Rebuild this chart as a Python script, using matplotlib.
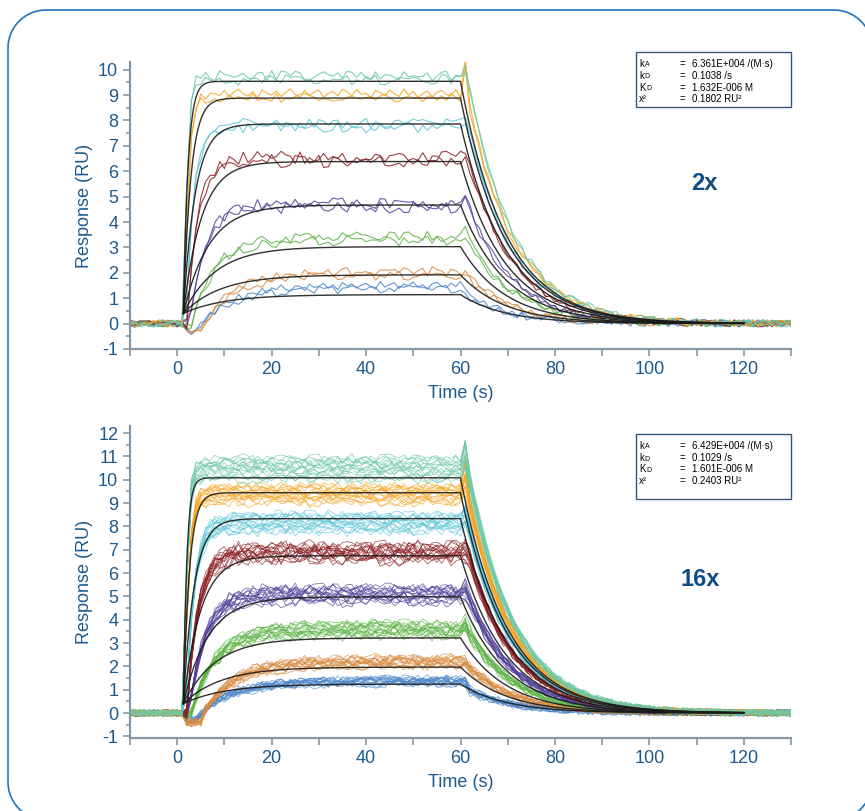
import numpy as np
import matplotlib.pyplot as plt
from matplotlib.lines import Line2D
from matplotlib.patches import Rectangle
from matplotlib.ticker import MultipleLocator
from matplotlib.transforms import IdentityTransform

plt.rcParams['font.family'] = ['Liberation Sans', 'DejaVu Sans']
plt.rcParams['axes.unicode_minus'] = False

W, H = 865, 811
TXT = '#1d5a8e'
SPINE = '#8797a3'

# one sample per second
t = np.arange(-10, 131, 1.0)

# concentration series, highest first
colors = ['#6cc8a4', '#f5a41f', '#5ec6d8', '#8c1d22', '#4f3f98', '#5cb446', '#d98b40', '#4c86c8']

# kinetic constants from the global 1:1 fits
ka_2x, kd_2x, KD_2x, chi2_2x = 6.361e4, 0.1038, 1.632e-6, 0.1802
ka_16x, kd_16x, KD_16x, chi2_16x = 6.429e4, 0.1029, 1.601e-6, 0.2403

# fitted steady-state levels (RU) and Rmax
fit_plateau_2x = [9.54, 8.88, 7.86, 6.38, 4.67, 3.03, 1.92, 1.14]
fit_plateau_16x = [10.08, 9.44, 8.33, 6.74, 4.98, 3.22, 1.97, 1.24]
rmax_2x = 10.65
rmax_16x = 10.9

# measured response levels
data_level_2x = [9.68, 8.98, 7.80, 6.48, 4.65, 3.35, 1.98, 1.43]
data_level_16x = [10.45, 9.35, 8.12, 6.85, 5.05, 3.55, 2.18, 1.35]
data_rate = [1.6, 1.1, 0.6, 0.42, 0.3, 0.2, 0.15, 0.14]
data_on = [1.5, 1.5, 1.8, 2.0, 2.5, 3.0, 5.5, 5.0]
dip = [0, 0, 0, 0, 0, -0.1, -0.4, -0.3]
bulk = [0, 0, 0, 0, 0, 0, 0.15, 0.35]
spike_2x = [0.4, 1.3, 0.2, 0, 0.3, 0.3, 0, 0]
spike_16x = [0.6, 0.9, 0.3, 0.1, 0.2, 0.2, 0, 0]
noise_amp = [0.22, 0.2, 0.22, 0.28, 0.24, 0.22, 0.2, 0.17]
base_amp = 0.15

# replicate level offsets (fraction of spread)
rep_2x = [0.08, -0.08]
rep_16x = [-0.9, 0.6, -0.3, 0.95, 0.1, -0.6, 0.4, -0.1, 0.8, -0.75, 0.25, -0.45, 0.7, 0.0, -0.2, 0.5]
spread_16x = [0.5, 0.4, 0.4, 0.35, 0.35, 0.3, 0.22, 0.15]

# sensor noise pattern
jitter = [0.3, -0.5, 0.8, -0.2, 0.1, -0.9, 0.6, 0.2, -0.4, 0.7,
          -0.1, -0.6, 0.9, -0.3, 0.4, -0.8, 0.0, 0.5, -0.7, 0.2,
          0.6, -0.2, -0.5, 0.8, -0.9, 0.3, 0.1, -0.4, 0.7, -0.6,
          0.5, -0.1, 0.9, -0.3, -0.7, 0.4, 0.2, -0.8, 0.6, -0.2,
          0.0, 0.7, -0.5, 0.3, -0.9, 0.8, -0.1, 0.4, -0.6, 0.1,
          0.5, -0.3, -0.8, 0.9, -0.4, 0.2, 0.6, -0.7, 0.3, -0.1,
          0.8, -0.5, 0.1, -0.9, 0.4, 0.7, -0.2, -0.6, 0.5, -0.3,
          0.9, -0.8, 0.2, 0.0, -0.4, 0.6, -0.7, 0.3, 0.8, -0.1,
          -0.5, 0.4, -0.9, 0.7, 0.1, -0.3, 0.5, -0.6, 0.2, 0.9,
          -0.2, -0.8, 0.6, -0.4, 0.3, 0.7, -0.7, 0.0, 0.4, -0.5, 0.8]
strides = [1, 3, 7, 11, 17, 23, 29, 37, 41, 47, 53, 59]

T0, R0 = 1.3, 0.4


def fit_curve(req, rmax, ka, kd):
    KD = kd / ka
    conc = KD * req / (rmax - req)
    kobs = ka * conc + kd
    ta = np.linspace(T0, 60, 300)
    td = np.linspace(60, 120, 300)
    ra = R0 + (req - R0) * (1 - np.exp(-kobs * (ta - T0)))
    rd = ra[-1] * np.exp(-kd * (td - 60))
    return np.r_[ta, td], np.r_[ra, rd]


def data_trace(i, level, kd, spike, k):
    jit = np.asarray(jitter)
    idx = (np.arange(t.size) * strides[k % len(strides)] + 13 * k) % jit.size
    y = np.zeros_like(t)
    on = (t >= data_on[i]) & (t < 62)
    y[on] = level * (1 - np.exp(-data_rate[i] * (t[on] - data_on[i])))
    y[(t >= 2) & (t < data_on[i])] = dip[i]
    off = t >= 62
    y[off] = (level - bulk[i]) * np.exp(-kd * (t[off] - 61.5))
    y[t == 61] += spike
    amp = np.where((t > 1) & (t < 63), noise_amp[i], base_amp)
    return y + jit[idx] * amp


fig = plt.figure(figsize=(W / 100, H / 100), dpi=100)


def frac(x0, y0, x1, y1):
    return [x0 / W, 1 - y1 / H, (x1 - x0) / W, (y1 - y0) / H]


def style(ax, ylim, ytop):
    ax.set_xlim(-10, 130)
    ax.set_ylim(*ylim)
    for s in ['top', 'right']:
        ax.spines[s].set_visible(False)
    for s in ['left', 'bottom']:
        ax.spines[s].set_color(SPINE)
        ax.spines[s].set_linewidth(1.6)
    ax.xaxis.set_major_locator(MultipleLocator(20))
    ax.xaxis.set_minor_locator(MultipleLocator(10))
    ax.yaxis.set_major_locator(MultipleLocator(1))
    ax.yaxis.set_minor_locator(MultipleLocator(0.5))
    ax.set_yticks(np.arange(-1, ytop + 1))
    ax.tick_params(which='both', direction='out', color=SPINE, width=1.2,
                   labelsize=13, labelcolor=TXT)
    ax.tick_params(axis='x', which='both', length=5)
    ax.tick_params(axis='y', which='major', length=5)
    ax.tick_params(axis='y', which='minor', length=3)
    ax.set_xlabel('Time (s)', fontsize=13, color=TXT, labelpad=5)
    ax.set_ylabel('Response (RU)', fontsize=13, color=TXT, labelpad=4)


def info_box(x0, y0, x1, y1, rows, ka, kd, KD, chi2):
    fig.add_artist(Rectangle((x0 / W, 1 - y1 / H), (x1 - x0) / W, (y1 - y0) / H,
                             transform=fig.transFigure, fill=False,
                             edgecolor='#34547c', linewidth=1.0))
    labels = [('k', 'A'), ('k', 'D'), ('K', 'D'), ('x²', '')]
    values = ['%.3fE+%03d /(M·s)' % (ka / 10 ** int(np.floor(np.log10(ka))),
                                     int(np.floor(np.log10(ka)))),
              '%.4f /s' % kd,
              '%.3fE-%03d M' % (KD / 10 ** int(np.floor(np.log10(KD))),
                                -int(np.floor(np.log10(KD)))),
              '%.4f RU²' % chi2]
    for (a, b), v, y in zip(labels, values, rows):
        fig.text(639 / W, 1 - y / H, a, fontsize=7, va='center', ha='left')
        fig.text((639 + (7 if a == 'K' else 5.5)) / W, 1 - (y + 1) / H, b,
                 fontsize=5, va='center', ha='left')
        fig.text(680 / W, 1 - y / H, '=', fontsize=7, va='center', ha='left')
        fig.text(692 / W, 1 - y / H, v, fontsize=7, va='center', ha='left')


panels = [
    dict(box=frac(130, 62, 791, 349.5), ylim=(-1.02, 10.3), ytop=10,
         plateau=fit_plateau_2x, rmax=rmax_2x, ka=ka_2x, kd=kd_2x, KD=KD_2x, chi2=chi2_2x,
         level=data_level_2x, reps=rep_2x, spread=[1] * 8, spike=spike_2x,
         lw=0.8, alpha=0.85, tag='2x', tag_xy=(704, 184),
         rect=(636, 52, 791, 107), rows=[64, 76, 87.7, 99.3]),
    dict(box=frac(130, 426, 791, 738), ylim=(-1.07, 12.3), ytop=12,
         plateau=fit_plateau_16x, rmax=rmax_16x, ka=ka_16x, kd=kd_16x, KD=KD_16x, chi2=chi2_16x,
         level=data_level_16x, reps=rep_16x, spread=spread_16x, spike=spike_16x,
         lw=0.6, alpha=0.7, tag='16x', tag_xy=(700, 580),
         rect=(636, 434, 791, 499), rows=[445.7, 458.3, 469.3, 480.7]),
]

k = 0
for p in panels:
    ax = fig.add_axes(p['box'])
    for i in reversed(range(8)):
        for r in p['reps']:
            lev = p['level'][i] + r * p['spread'][i]
            sp = p['spike'][i] * (1 + 0.5 * r)
            ax.plot(t, data_trace(i, lev, p['kd'], sp, k), color=colors[i],
                    lw=p['lw'], alpha=p['alpha'])
            k += 1
    for req in p['plateau']:
        tf, rf = fit_curve(req, p['rmax'], p['ka'], p['kd'])
        ax.plot(tf, rf, color='#1a1a1a', lw=1.0, alpha=0.9)
    style(ax, p['ylim'], p['ytop'])
    x0, y0, x1, y1 = p['rect']
    info_box(x0, y0, x1, y1, p['rows'], p['ka'], p['kd'], p['KD'], p['chi2'])
    fig.text(p['tag_xy'][0] / W, 1 - p['tag_xy'][1] / H, p['tag'], fontsize=17,
             fontweight='bold', color='#0e4d85', ha='center', va='center')

# rounded outer frame (pixel coordinates), running off the right and bottom edges
fx0, fx1, fy0, fy1, rad = 8, 872, -9, 801, 38
a = np.linspace(0, np.pi / 2, 30)
corners = [(fx1 - rad, fy1 - rad, a), (fx0 + rad, fy1 - rad, a + np.pi / 2),
           (fx0 + rad, fy0 + rad, a + np.pi), (fx1 - rad, fy0 + rad, a + 1.5 * np.pi)]
px = np.concatenate([cx + rad * np.cos(aa) for cx, cy, aa in corners])
py = np.concatenate([cy + rad * np.sin(aa) for cx, cy, aa in corners])
px, py = np.r_[px, px[0]], np.r_[py, py[0]]
fig.add_artist(Line2D(px, py, transform=IdentityTransform(), color='#1b75c0', lw=1.2))

fig.savefig('out.png', dpi=100)
